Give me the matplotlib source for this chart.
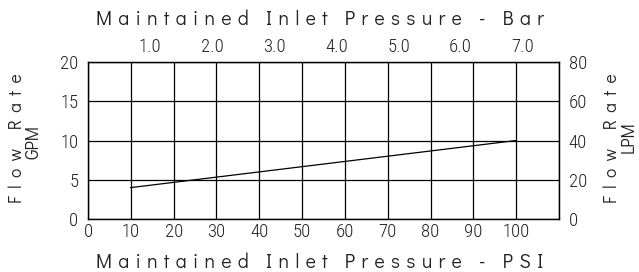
import matplotlib
matplotlib.use("Agg")
import matplotlib.pyplot as plt

psi = [10, 100]
gpm = [4, 10]
x_ticks = [0, 10, 20, 30, 40, 50, 60, 70, 80, 90, 100]
y_ticks = [0, 5, 10, 15, 20]
lpm_ticks = [0, 20, 40, 60, 80]
bar_ticks = [1.0, 2.0, 3.0, 4.0, 5.0, 6.0, 7.0]
PSI_PER_BAR = 14.5
GPM_TO_LPM = 4.0

num_font = ["Roboto Condensed", "DejaVu Sans"]
txt_font = ["Didact Gothic", "DejaVu Sans"]
INK = "#222222"
NUM_SIZE = 13.5

def spaced(s, gap=" "):
    return gap.join(list(s))

fig = plt.figure(figsize=(6.39, 2.72), dpi=100)
ax = fig.add_axes([88 / 639, 1 - 219 / 272, 471 / 639, 157 / 272])
ax.plot(psi, gpm, color="black", lw=0.9)
ax.set_xlim(0, 110)
ax.set_ylim(0, 20)
ax.set_xticks(range(0, 111, 10))
ax.set_xticklabels([str(v) for v in x_ticks] + [""])
ax.set_yticks(y_ticks)
ax.grid(True, color="black", lw=0.9)
ax.tick_params(length=0, labelsize=NUM_SIZE)
ax.tick_params(axis="x", pad=3)
ax.tick_params(axis="y", pad=7)
for lab in ax.get_xticklabels() + ax.get_yticklabels():
    lab.set_fontfamily(num_font)
    lab.set_fontweight("light")
    lab.set_color(INK)
for s in ax.spines.values():
    s.set_linewidth(0.9)

ax2 = ax.twinx()
ax2.set_ylim(0, 20 * GPM_TO_LPM)
ax2.set_yticks(lpm_ticks)
ax2.tick_params(length=0, pad=7, labelsize=NUM_SIZE)
for lab in ax2.get_yticklabels():
    lab.set_fontfamily(num_font)
    lab.set_fontweight("light")
    lab.set_color(INK)

ax3 = ax.twiny()
ax3.set_xlim(0, 110)
ax3.set_xticks([b * PSI_PER_BAR for b in bar_ticks])
ax3.set_xticklabels([f"{b:.1f}" for b in bar_ticks])
ax3.tick_params(length=0, pad=4, labelsize=NUM_SIZE)
for lab in ax3.get_xticklabels():
    lab.set_fontfamily(num_font)
    lab.set_fontweight("light")
    lab.set_color(INK)

kw = dict(fontsize=14, color=INK, family=txt_font)
tg = " \u200a"
fig.text(0.5, 1 - 268 / 272, spaced("Maintained Inlet Pressure - PSI", tg), ha="center", va="baseline", **kw)
fig.text(0.5, 1 - 25 / 272, spaced("Maintained Inlet Pressure - Bar", tg), ha="center", va="baseline", **kw)
kw2 = dict(fontsize=12.5, color=INK, family=txt_font)
g = " \u2009"
fig.text(17 / 639, 1 - 138 / 272, spaced("Flow Rate", g), rotation=90, ha="center", va="center", **kw2)
fig.text(34 / 639, 1 - 142 / 272, "GPM", rotation=90, ha="center", va="center", **kw2)
fig.text(612 / 639, 1 - 138 / 272, spaced("Flow Rate", g), rotation=90, ha="center", va="center", **kw2)
fig.text(629 / 639, 1 - 137 / 272, "LPM", rotation=90, ha="center", va="center", **kw2)

fig.savefig("out.png", dpi=100)
